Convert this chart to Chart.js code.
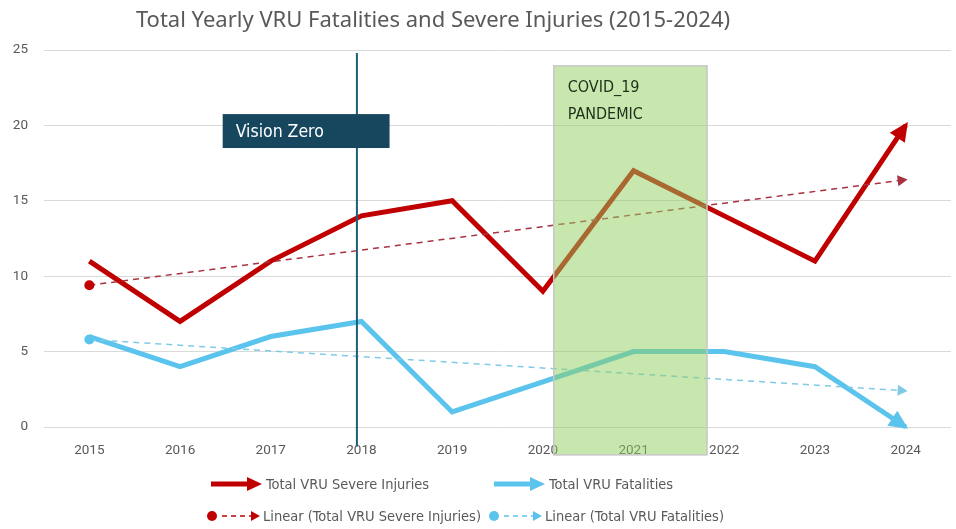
<!DOCTYPE html>
<html lang="en">
<head>
    <meta charset="UTF-8">
    <title>Total Yearly VRU Fatalities and Severe Injuries</title>
    <script src="https://cdn.jsdelivr.net/npm/chart.js"></script>
    <style>
        body { margin: 0; background: #fff; }
        .wrap { position: relative; width: 956px; height: 529px; font-family: 'Liberation Sans Narrow', 'DejaVu Sans Condensed', Roboto, sans-serif; }
        .title { position: absolute; left: 0; top: 3px; width: 866px; text-align: center; font-family: 'Noto Sans', 'Open Sans', sans-serif; font-size: 22px; color: #595959; }
        .leg { position: absolute; display: flex; align-items: center; font-size: 14.5px; color: #595959; }
        .leg svg { margin-right: 3px; }
    </style>
</head>
<body>
<div class="wrap">
    <canvas id="chart" width="956" height="529"></canvas>
    <div class="title">Total Yearly VRU Fatalities and Severe Injuries (2015-2024)</div>
    <div class="leg" style="left:207px; top:476px;">
        <svg width="56" height="16"><line x1="4" y1="8" x2="42" y2="8" stroke="#c00000" stroke-width="5"/><polygon points="40,1 55,8 40,15" fill="#c00000"/></svg>
        Total VRU Severe Injuries</div>
    <div class="leg" style="left:490px; top:476px;">
        <svg width="56" height="16"><line x1="4" y1="8" x2="42" y2="8" stroke="#5bc4ec" stroke-width="5"/><polygon points="40,1 55,8 40,15" fill="#5bc4ec"/></svg>
        Total VRU Fatalities</div>
    <div class="leg" style="left:204px; top:508px;">
        <svg width="56" height="16"><circle cx="8" cy="8" r="5" fill="#c00000"/><line x1="18" y1="8" x2="48" y2="8" stroke="#c00000" stroke-width="1.5" stroke-dasharray="5,4"/><polygon points="47,3 56,8 47,13" fill="#c00000"/></svg>
        Linear (Total VRU Severe Injuries)</div>
    <div class="leg" style="left:486px; top:508px;">
        <svg width="56" height="16"><circle cx="8" cy="8" r="5" fill="#5bc4ec"/><line x1="18" y1="8" x2="48" y2="8" stroke="#5bc4ec" stroke-width="1.5" stroke-dasharray="5,4"/><polygon points="47,3 56,8 47,13" fill="#5bc4ec"/></svg>
        Linear (Total VRU Fatalities)</div>
</div>
<script>
    // data
    const years = ['2015', '2016', '2017', '2018', '2019', '2020', '2021', '2022', '2023', '2024'];
    const severeInjuries = [11, 7, 11, 14, 15, 9, 17, 14, 11, 20];
    const fatalities = [6, 4, 6, 7, 1, 3, 5, 5, 4, 0];
    // trend lines (start 2015, end 2024)
    const trendSevere = [9.4, null, null, null, null, null, null, null, null, 16.4];
    const trendFatal = [5.8, null, null, null, null, null, null, null, null, 2.4];
    const yTicks = [0, 5, 10, 15, 20, 25];

    const RED = '#c00000';
    const BLUE = '#5bc4ec';

    // arrow at the end of a line
    function drawArrow(ctx, p0, p1, color, len, half, ext) {
        const dx = p1.x - p0.x, dy = p1.y - p0.y;
        const d = Math.sqrt(dx * dx + dy * dy);
        const ux = dx / d, uy = dy / d;
        const tx = p1.x + ux * ext, ty = p1.y + uy * ext;
        const bx = tx - ux * len, by = ty - uy * len;
        ctx.fillStyle = color;
        ctx.beginPath();
        ctx.moveTo(tx, ty);
        ctx.lineTo(bx - uy * half, by + ux * half);
        ctx.lineTo(bx + uy * half, by - ux * half);
        ctx.closePath();
        ctx.fill();
    }

    const overlays = {
        id: 'overlays',
        afterDatasetsDraw(chart) {
            const ctx = chart.ctx;
            const x = chart.scales.x, y = chart.scales.y;
            ctx.save();
            // arrow heads
            chart.data.datasets.forEach((ds, i) => {
                if (!ds.arrow) return;
                const pts = chart.getDatasetMeta(i).data.filter(p => !p.skip);
                const a = pts[pts.length - 2], b = pts[pts.length - 1];
                drawArrow(ctx, a, b, ds.borderColor, ds.arrow[0], ds.arrow[1], ds.arrow[2]);
            });

            // COVID box
            const gx0 = x.getPixelForValue(5.12), gx1 = x.getPixelForValue(6.81);
            const gy0 = y.getPixelForValue(23.95), gy1 = y.getPixelForValue(-1.85);
            ctx.fillStyle = 'rgba(146, 208, 96, 0.5)';
            ctx.fillRect(gx0, gy0, gx1 - gx0, gy1 - gy0);
            ctx.strokeStyle = '#c8c8c8';
            ctx.lineWidth = 1.5;
            ctx.strokeRect(gx0, gy0, gx1 - gx0, gy1 - gy0);
            ctx.fillStyle = '#1f2f1a';
            ctx.font = '16px "Liberation Sans Narrow", "DejaVu Sans Condensed", Roboto, sans-serif';
            ctx.textBaseline = 'middle';
            ctx.textAlign = 'left';
            ctx.fillText('COVID_19', gx0 + 14, y.getPixelForValue(22.5));
            ctx.fillText('PANDEMIC', gx0 + 14, y.getPixelForValue(20.7));

            // Vision Zero line
            const vx = x.getPixelForValue(2.95);
            ctx.strokeStyle = '#1d5c78';
            ctx.lineWidth = 2;
            ctx.beginPath();
            ctx.moveTo(vx, y.getPixelForValue(24.8));
            ctx.lineTo(vx, y.getPixelForValue(-1.3));
            ctx.stroke();

            // Vision Zero box
            const bx0 = x.getPixelForValue(1.47), bx1 = x.getPixelForValue(3.31);
            const by0 = y.getPixelForValue(20.75), by1 = y.getPixelForValue(18.5);
            ctx.fillStyle = '#16475f';
            ctx.fillRect(bx0, by0, bx1 - bx0, by1 - by0);
            ctx.fillStyle = '#ffffff';
            ctx.font = '17.5px "Liberation Sans Narrow", "DejaVu Sans Condensed", Roboto, sans-serif';
            ctx.fillText('Vision Zero', bx0 + 13, (by0 + by1) / 2 + 1);
            ctx.restore();
        }
    };

    new Chart(document.getElementById('chart'), {
        type: 'line',
        data: {
            labels: years,
            datasets: [
                {
                    label: 'Linear (Total VRU Severe Injuries)',
                    data: trendSevere,
                    borderColor: '#a8323f',
                    backgroundColor: RED,
                    borderWidth: 1.5,
                    borderDash: [6, 5],
                    spanGaps: true,
                    pointRadius: c => c.dataIndex === 0 ? 5 : 0,
                    pointBorderWidth: 0,
                    arrow: [10, 5.5, 2],
                    clip: false
                },
                {
                    label: 'Linear (Total VRU Fatalities)',
                    data: trendFatal,
                    borderColor: '#7fcbe6',
                    backgroundColor: BLUE,
                    borderWidth: 1.5,
                    borderDash: [6, 5],
                    spanGaps: true,
                    pointRadius: c => c.dataIndex === 0 ? 5 : 0,
                    pointBorderWidth: 0,
                    arrow: [10, 5.5, 2],
                    clip: false
                },
                {
                    label: 'Total VRU Severe Injuries',
                    data: severeInjuries,
                    borderColor: RED,
                    borderWidth: 5,
                    pointRadius: 0,
                    tension: 0,
                    arrow: [19, 9, 4],
                    clip: false
                },
                {
                    label: 'Total VRU Fatalities',
                    data: fatalities,
                    borderColor: BLUE,
                    borderWidth: 5,
                    pointRadius: 0,
                    tension: 0,
                    arrow: [19, 9, 3],
                    clip: false
                }
            ]
        },
        options: {
            responsive: false,
            animation: false,
            layout: { padding: { top: 50, right: 1, bottom: 62, left: 0 } },
            plugins: {
                legend: { display: false },
                tooltip: { enabled: false }
            },
            scales: {
                x: {
                    offset: true,
                    grid: { display: false },
                    border: { display: false },
                    ticks: { color: '#595959', font: { size: 13.5, family: 'Roboto' }, padding: 8 },
                    afterFit: s => { s.height = 40; }
                },
                y: {
                    min: 0,
                    max: 25,
                    afterBuildTicks: s => { s.ticks = yTicks.map(v => ({ value: v })); },
                    grid: { color: '#d9d9d9', lineWidth: 1, drawTicks: false },
                    border: { display: false },
                    ticks: { color: '#595959', font: { size: 13.5, family: 'Roboto' }, padding: 16 },
                    afterFit: s => { s.width = 44; }
                }
            }
        },
        plugins: [overlays]
    });
</script>
</body>
</html>
